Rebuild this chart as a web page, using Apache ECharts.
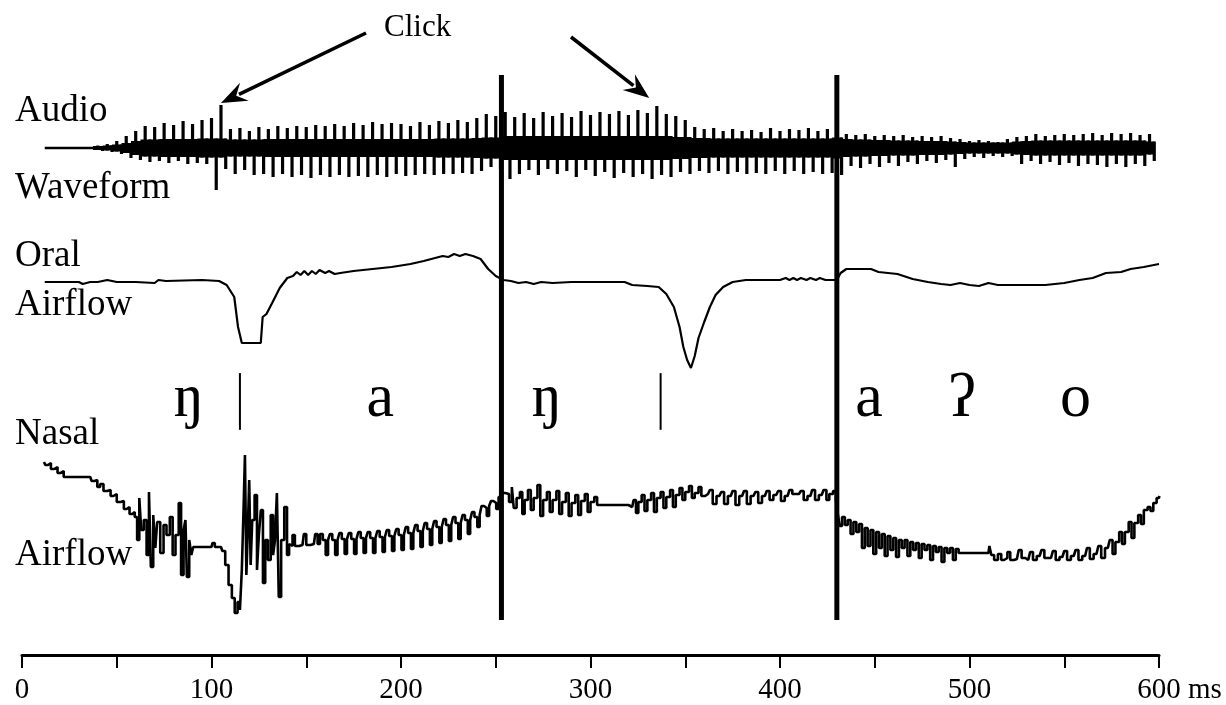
<!DOCTYPE html>
<html><head><meta charset="utf-8">
<script src="https://cdn.jsdelivr.net/npm/echarts@6/dist/echarts.min.js"></script>
<style>html,body{margin:0;padding:0;background:#fff}#c{width:1226px;height:705px}</style>
</head><body><div id="c"></div>
<script>
// ---------- data ----------
const xTickValues = [0, 100, 200, 300, 400, 500, 600];
const boundaryTimes = [253, 430];          // thick syllable boundaries (ms)
const subBoundaryTimes = [115, 337];       // short segment boundaries (ms)
const phonemes = ['ŋ', 'a', 'ŋ', 'a', 'ʔ', 'o'];
const phonemeTimes = [88, 189, 277, 447, 496, 556];
const clickTimes = [105, 331];             // where the "Click" arrows point (ms)
const clickLevels = [0.9, 1.0];

// audio waveform: leading silence and pitch pulses (amplitude units)
const audioLead = [[12, 0], [38, 0], [39, 0.04], [52, 0.04]];
const audioTime = [40,45,50,55,60,65,70,75,80,85,90,95,100,105,110,115,120,125,130,135,140,145,150,155,160,165,170,175,180,185,190,195,200,205,210,215,220,225,230,235,240,245,250,255,260,265,270,275,280,285,290,295,300,305,310,315,320,325,330,335,340,345,350,355,360,365,370,375,380,385,390,395,400,405,410,415,420,425,430,435,440,445,450,455,460,465,470,475,480,485,490,495,500,505,510,515,520,525,530,535,540,545,550,555,560,565,570,575,580,585,590,595];
const audioTop = [0.05,0.08,0.14,0.24,0.34,0.44,0.42,0.50,0.46,0.54,0.48,0.56,0.60,0.86,0.38,0.40,0.34,0.42,0.38,0.44,0.40,0.44,0.42,0.46,0.44,0.48,0.44,0.50,0.46,0.52,0.48,0.50,0.48,0.44,0.52,0.46,0.54,0.50,0.56,0.52,0.60,0.68,0.64,0.72,0.62,0.70,0.60,0.72,0.64,0.70,0.62,0.74,0.66,0.72,0.68,0.74,0.66,0.76,0.70,0.84,0.68,0.64,0.56,0.42,0.38,0.40,0.34,0.38,0.34,0.36,0.32,0.40,0.34,0.38,0.36,0.40,0.34,0.38,0.42,0.28,0.26,0.28,0.24,0.26,0.24,0.26,0.22,0.24,0.22,0.24,0.20,0.18,0.14,0.16,0.14,0.12,0.18,0.22,0.24,0.28,0.24,0.26,0.28,0.26,0.28,0.30,0.26,0.30,0.28,0.30,0.26,0.28];
const audioBottom = [-0.06,-0.08,-0.12,-0.20,-0.24,-0.28,-0.26,-0.30,-0.26,-0.32,-0.30,-0.32,-0.84,-0.42,-0.52,-0.44,-0.54,-0.52,-0.58,-0.52,-0.58,-0.54,-0.60,-0.54,-0.58,-0.54,-0.58,-0.56,-0.58,-0.54,-0.58,-0.52,-0.56,-0.54,-0.52,-0.54,-0.52,-0.52,-0.50,-0.52,-0.46,-0.38,-0.42,-0.62,-0.52,-0.44,-0.54,-0.42,-0.52,-0.46,-0.58,-0.44,-0.56,-0.48,-0.60,-0.50,-0.58,-0.52,-0.62,-0.54,-0.58,-0.48,-0.52,-0.46,-0.50,-0.46,-0.52,-0.48,-0.52,-0.50,-0.52,-0.46,-0.52,-0.46,-0.52,-0.48,-0.52,-0.50,-0.54,-0.36,-0.40,-0.32,-0.38,-0.30,-0.36,-0.28,-0.32,-0.26,-0.30,-0.24,-0.38,-0.22,-0.18,-0.20,-0.16,-0.18,-0.16,-0.32,-0.26,-0.32,-0.28,-0.34,-0.30,-0.36,-0.32,-0.34,-0.38,-0.32,-0.38,-0.32,-0.36,-0.26];
const audioCore = [0.04,0.05,0.07,0.10,0.14,0.17,0.17,0.18,0.18,0.18,0.18,0.19,0.19,0.19,0.17,0.17,0.17,0.17,0.18,0.18,0.18,0.18,0.18,0.18,0.18,0.18,0.18,0.18,0.18,0.18,0.18,0.18,0.18,0.18,0.18,0.18,0.19,0.19,0.19,0.19,0.20,0.21,0.21,0.24,0.24,0.24,0.24,0.24,0.24,0.24,0.24,0.24,0.24,0.24,0.24,0.24,0.24,0.24,0.24,0.24,0.24,0.22,0.22,0.20,0.20,0.19,0.19,0.19,0.19,0.19,0.19,0.19,0.19,0.19,0.19,0.19,0.19,0.19,0.21,0.18,0.17,0.17,0.16,0.16,0.15,0.15,0.15,0.14,0.14,0.14,0.13,0.12,0.11,0.11,0.11,0.11,0.11,0.13,0.14,0.15,0.15,0.15,0.15,0.15,0.15,0.15,0.15,0.15,0.15,0.15,0.15,0.13];

// oral airflow (arbitrary flow units, 0 = rest level)
const oralFlow = [[12,0],[30,0],[32,-0.2],[36,0],[40,0],[45,0.2],[50,0],[60,0],[70,-0.1],[72,0.2],[76,0.1],[95,0.2],[104,0.1],[108,-0.3],[112,-1.5],[114,-4.5],[116,-6.1],[120,-6.1],[126,-6.1],[127,-3.5],[129,-3.2],[132,-2.1],[136,-0.6],[140,0.4],[143,0.6],[145,1.0],[147,0.7],[149,1.1],[151,0.7],[153,1.1],[155,0.8],[157,1.2],[160,0.9],[162,1.1],[165,0.8],[168,0.9],[175,1.1],[185,1.3],[195,1.5],[205,1.8],[212,2.1],[218,2.4],[222,2.6],[225,2.5],[228,2.8],[231,2.6],[234,2.8],[238,2.6],[242,2.3],[246,1.3],[250,0.6],[254,0.2],[258,0.1],[262,-0.1],[266,0],[270,-0.2],[274,0],[280,-0.1],[290,0],[305,0],[318,0],[322,-0.3],[330,-0.4],[336,-0.5],[340,-1.2],[344,-2.5],[347,-4.5],[349,-6.5],[351,-7.8],[353,-8.6],[355,-7.4],[357,-5.6],[360,-4.0],[363,-2.5],[366,-1.3],[370,-0.5],[375,0],[382,0.2],[400,0.2],[403,0.4],[405,0.2],[407,0.4],[409,0.2],[411,0.4],[414,0.2],[416,0.4],[419,0.2],[421,0.4],[424,0.2],[430,0.2],[432,0.9],[435,1.3],[448,1.3],[452,1.0],[462,0.8],[470,0.3],[478,0],[485,-0.2],[490,-0.3],[495,-0.1],[500,-0.3],[505,-0.4],[510,-0.1],[515,-0.3],[520,-0.3],[530,-0.3],[540,-0.3],[550,-0.1],[558,0.2],[565,0.4],[572,0.9],[580,1.0],[585,1.3],[592,1.5],[600,1.8]];

// nasal airflow (arbitrary flow units)
const nasalFlow = [[11.6,8.8],[13,8.5],[14.5,8.7],[16,8.1],[18,8.3],[19.5,7.7],[21,7.9],[23,7.3],[25,7.3],[36,7.3],[37.5,6.9],[39,7.0],[40.5,6.3],[42,6.6],[44,5.9],[46,6.0],[47.5,5.4],[49,5.6],[51,4.8],[53,4.9],[54.5,4.1],[56,4.3],[57.5,3.6],[59,3.8],[60,3.3],[61.5,1.0],[62.3,5.2],[63.5,2.0],[65,3.0],[66.5,-0.5],[67.5,5.8],[68.5,-1.7],[70,3.5],[70.7,0.2],[72,2.8],[73.9,-0.3],[75.5,2.5],[77,1.5],[79,3.3],[80,-0.5],[82,1.5],[83.4,4.7],[84.5,-2.5],[86,2.0],[86.5,3.0],[87.5,-2.7],[89,1.0],[89.7,-0.5],[91,0.3],[100,0.3],[101,0.7],[102.5,0.3],[105,0.3],[106.5,-0.1],[108,-1.5],[110,-3.5],[111.5,-4.8],[113,-6.3],[114.5,-5.2],[115.5,-6.0],[116.5,-2.0],[117.3,4.0],[118,9.5],[118.8,-2.5],[119.5,2.0],[120.3,7.0],[121,-1.5],[122,3.0],[123.5,5.5],[124.5,-2.0],[125.5,1.5],[126.6,4.0],[127.7,-3.3],[129,1.0],[130.5,-1.0],[132,3.5],[133,-0.5],[134,1.0],[135,5.7],[136,-4.7],[137.5,1.0],[139.3,4.3],[140.4,-0.5],[141.5,0.6],
[142,0.4],[143.5,1.5],[144.5,0.4],[148,0.5],[149.5,1.6],[150.5,0.5],[154,0.6],[155.5,1.6],[156.5,0.6],
[158,1.6],[159.5,1.0],[161,-0.5],[162,1.0],[163,1.6],[164.5,1.0],[166,-0.5],[167,1.0],[168,1.7],[169.5,1.1],[171,-0.4],[172,1.1],[173,1.7],[174.5,1.1],[176,-0.4],[177,1.1],[178,1.8],[179.5,1.2],[181,-0.3],[182,1.2],[183,1.8],[184.5,1.2],[186,-0.3],[187,1.2],[188,1.9],[189.5,1.3],[191,-0.2],[192,1.3],[193,2.0],[194.5,1.4],[196,-0.1],[197,1.4],[198,2.1],[199.5,1.5],[201,0.0],[202,1.5],
[203,2.3],[204.5,1.7],[206,0.1],[207,1.7],[208,2.5],[209.5,1.9],[211,0.3],[212,1.9],[213,2.7],[214.5,2.1],[216,0.5],[217,2.1],[218,2.9],[219.5,2.3],[221,0.7],[222,2.3],[223,3.1],[224.5,2.5],[226,0.9],[227,2.5],[228,3.3],[229.5,2.7],[231,1.1],[232,2.7],[233,3.5],[234.5,3.0],[236,1.6],[237,3.0],
[238,3.8],[239.5,3.3],[241,2.3],[242,3.5],[243,4.4],[244.5,4.2],[246,3.4],[247,4.4],[248,4.9],[249.5,4.7],[251,4.1],[252,5.3],[254,5.7],
[256,5.6],[258,4.8],[259,6.3],[260,4.2],[262,5.2],[263.5,5.8],[264.5,3.6],[266,5.0],[268,6.0],[269,4.0],[271,5.2],[273,6.5],[274,3.4],[276,5.0],[278,5.8],[279,3.8],[281,5.0],[283,5.9],[284,3.6],[286,4.8],[288,5.7],[289,3.4],[291,4.7],[293,5.5],[294,3.5],[296,4.9],[298,5.6],[299,3.8],[301,4.8],[303,5.3],[304,4.5],[320,4.5],[322,4.3],[323.5,5.0],[324.5,3.7],[326,4.8],[328,5.5],[329,3.9],[331,5.0],[333,5.7],[334,3.8],[336,5.2],[338,5.8],[339,4.2],[341,5.3],[343,6.0],[344,4.3],[346,5.5],[348,6.2],[349,5.0],[351,5.8],[353,6.4],[354,5.2],[356,5.7],[358,6.3],[359,5.4],[362,5.6],[364,6.0],[365,4.6],[368,5.4],[370,5.8],[371,4.6],[374,5.4],[376,5.9],[377,4.5],[380,5.4],[382,5.9],[383,4.6],[386,5.4],[388,5.8],[389,4.7],[392,5.4],[394,5.9],[395,5.0],[398,5.5],[400,5.9],[401,4.9],[404,5.4],[406,6.0],[407,5.6],[410,5.6],[412,5.9],[413,5.0],[416,5.4],[418,6.0],[419,5.0],[422,5.5],[424,6.0],[425,5.0],[427,5.6],[429,5.9],[430,5.0],
[431,3.6],[432,2.4],[433.5,3.3],[435,2.5],[436.5,3.0],[438,1.6],[439.5,2.8],[441,1.8],[442.5,2.6],[444,0.2],[445.5,2.2],[447,0.4],[448.5,2.0],[450,-0.4],[451.5,1.8],[453,0.2],[454.5,1.6],[456,-0.6],[457.5,1.4],[459,0.0],[460.5,1.2],[462,-0.7],[463.5,1.0],[465,0.2],[466.5,1.0],[468,-0.6],[469.5,0.8],[471,0.0],[472.5,0.7],[474,-0.8],[475.5,0.6],[477,0.0],[478.5,0.5],[480,-1.0],[481.5,0.4],[483,-0.2],[484.5,0.3],[486,-1.2],[487.5,0.2],[489,-0.3],[490.5,0.2],[492,-1.0],[493.5,0.1],[495,-0.3],[510,-0.3],[511,0.4],[512,-0.5],[514,-1.0],[516,-0.4],[517.5,-1.0],[519,-0.8],[521,-0.2],[522,-1.0],[525,-0.9],[527,0.0],[528,-0.8],[531,-1.0],[533,-0.2],[534,-1.0],[537,-0.6],[539,0.0],[540,-0.8],[543,-0.8],[545,-0.1],[546,-1.0],[549,-0.7],[551,-0.1],[552,-1.0],[555,-0.6],[557,0.0],[558,-1.0],[561,-0.6],[563,0.2],[564,-0.9],[567,-0.4],[569,0.4],[570,-0.8],[573,0.2],[575,1.0],[576,-0.4],[578,0.8],[580,1.8],[581,0.6],[583,1.8],[585,2.8],[586,1.2],[588,2.7],[590,3.5],[591,2.6],[593,4.0],[595,4.3],[596,3.9],[598,4.7],[599.5,5.2],[600.3,5.4]];

// ---------- chart ----------
const SERIF = '"Liberation Serif","DejaVu Serif",serif';
const chart = echarts.init(document.getElementById('c'), null, {renderer: 'canvas'});

const L = 22, R = 67;
const hiddenX = (g) => ({gridIndex: g, type: 'value', min: 0, max: 600, show: false});
const hiddenY = (g, mn, mx) => ({gridIndex: g, type: 'value', min: mn, max: mx, show: false});

const option = {
  backgroundColor: '#ffffff',
  animation: false,
  grid: [
    {left: L, right: R, top: 60, bottom: 47},   // time axis
    {left: L, right: R, top: 75, bottom: 85},   // boundaries & phoneme labels
    {left: L, right: R, top: 98, height: 100},  // audio
    {left: L, right: R, top: 252, height: 130}, // oral airflow
    {left: L, right: R, top: 450, height: 170}  // nasal airflow
  ],
  xAxis: [
    {
      gridIndex: 0, type: 'value', min: 0, max: 600, interval: 50,
      axisLine: {show: true, lineStyle: {color: '#000', width: 3}},
      axisTick: {show: true, inside: false, length: 13, lineStyle: {color: '#000', width: 2}},
      splitLine: {show: false},
      axisLabel: {
        show: true, margin: 21, color: '#000', fontFamily: SERIF, fontSize: 29,
        showMinLabel: true, showMaxLabel: true,
        formatter: function (v) {
          if (xTickValues.indexOf(v) < 0) return '';
          if (v === 600) return '{u|600 ms}';
          return String(v);
        },
        rich: {u: {fontFamily: SERIF, fontSize: 29, color: '#000', padding: [0, 0, 0, 41]}}
      }
    },
    hiddenX(1), hiddenX(2), hiddenX(3), hiddenX(4)
  ],
  yAxis: [hiddenY(0, 0, 1), hiddenY(1, 0, 1), hiddenY(2, -1, 1), hiddenY(3, -10, 3), hiddenY(4, -7, 10)],
  series: [
    { // thick boundaries
      type: 'custom', xAxisIndex: 1, yAxisIndex: 1, silent: true, clip: false,
      data: boundaryTimes.map(t => [t]),
      renderItem: function (p, api) {
        const a = api.coord([api.value(0), 1]), b = api.coord([api.value(0), 0]);
        return {type: 'line', shape: {x1: a[0], y1: a[1], x2: b[0], y2: b[1]}, style: {stroke: '#000', lineWidth: 5}};
      }
    },
    { // short segment boundaries
      type: 'custom', xAxisIndex: 1, yAxisIndex: 1, silent: true, clip: false,
      data: subBoundaryTimes.map(t => [t]),
      renderItem: function (p, api) {
        const a = api.coord([api.value(0), 0.453]), b = api.coord([api.value(0), 0.349]);
        return {type: 'line', shape: {x1: a[0], y1: a[1], x2: b[0], y2: b[1]}, style: {stroke: '#000', lineWidth: 2}};
      }
    },
    { // phoneme symbols
      type: 'custom', xAxisIndex: 1, yAxisIndex: 1, silent: true, clip: false,
      data: phonemeTimes.map((t, i) => [t, i]),
      renderItem: function (p, api) {
        const pt = api.coord([api.value(0), 0.404]);
        return {type: 'text', x: pt[0], y: pt[1], style: {
          text: phonemes[api.value(1)], fill: '#000', fontSize: 62, fontFamily: SERIF,
          align: 'center', verticalAlign: 'middle'}};
      }
    },
    { // leading silence of audio
      type: 'line', xAxisIndex: 2, yAxisIndex: 2, data: audioLead, symbol: 'none', silent: true, step: 'end',
      lineStyle: {color: '#000', width: 2.5}
    },
    { // audio pitch pulses
      type: 'custom', xAxisIndex: 2, yAxisIndex: 2, silent: true, clip: false,
      data: audioTime.map((t, i) => [t, audioTop[i], audioBottom[i], audioCore[i]]),
      renderItem: function (p, api) {
        const t = api.value(0), top = api.value(1), bot = api.value(2), core = api.value(3);
        const pTop = api.coord([t, top]);
        const pBot = api.coord([t + 2.5, bot]);
        const cT = api.coord([t, core]);
        const cB = api.coord([t, -core]);
        const w = api.size([5, 0])[0];
        return {type: 'group', children: [
          {type: 'rect', shape: {x: pTop[0] - 1.6, y: pTop[1], width: 3.2, height: cB[1] - pTop[1]}, style: {fill: '#000'}},
          {type: 'rect', shape: {x: pBot[0] - 1.6, y: cT[1], width: 3.2, height: pBot[1] - cT[1]}, style: {fill: '#000'}},
          {type: 'rect', shape: {x: pTop[0] - w / 2, y: cT[1], width: w + 0.5, height: cB[1] - cT[1]}, style: {fill: '#000'}}
        ]};
      }
    },
    { // oral airflow
      type: 'line', xAxisIndex: 3, yAxisIndex: 3, data: oralFlow, symbol: 'none', silent: true,
      lineStyle: {color: '#000', width: 2.2}
    },
    { // nasal airflow
      type: 'line', xAxisIndex: 4, yAxisIndex: 4, data: nasalFlow, symbol: 'none', silent: true, step: 'middle',
      lineStyle: {color: '#000', width: 2.6}
    }
  ]
};
chart.setOption(option);

// ---------- annotations ----------
function label(text, x, baseline, size) {
  return {type: 'text', x: x, y: baseline - 0.305 * size, style: {
    text: text, fill: '#000', fontSize: size, fontFamily: SERIF, align: 'left', verticalAlign: 'middle'}};
}
function arrow(from, to) {
  const dx = to[0] - from[0], dy = to[1] - from[1];
  const len = Math.sqrt(dx * dx + dy * dy), ux = dx / len, uy = dy / len;
  const hl = 26, hw = 10;
  const bx = to[0] - ux * hl, by = to[1] - uy * hl;
  return [
    {type: 'line', shape: {x1: from[0], y1: from[1], x2: bx + ux * 6, y2: by + uy * 6}, style: {stroke: '#000', lineWidth: 3.6}},
    {type: 'polygon', shape: {points: [[to[0], to[1]], [bx - uy * hw, by + ux * hw], [to[0] - ux * hl * 0.65, to[1] - uy * hl * 0.65], [bx + uy * hw, by - ux * hw]]}, style: {fill: '#000'}}
  ];
}
const head1 = chart.convertToPixel({xAxisIndex: 2, yAxisIndex: 2}, [clickTimes[0], clickLevels[0]]);
const head2 = chart.convertToPixel({xAxisIndex: 2, yAxisIndex: 2}, [clickTimes[1], clickLevels[1]]);
const graphics = [
  label('Audio', 15, 123, 37),
  label('Waveform', 15, 200, 37),
  label('Oral', 15, 268, 37),
  label('Airflow', 15, 317, 37),
  label('Nasal', 15, 446, 37),
  label('Airflow', 15, 567, 37),
  label('Click', 384, 37, 31)
].concat(arrow([366, 33], head1)).concat(arrow([571, 37], head2));
chart.setOption({graphic: graphics});
</script>
</body></html>
